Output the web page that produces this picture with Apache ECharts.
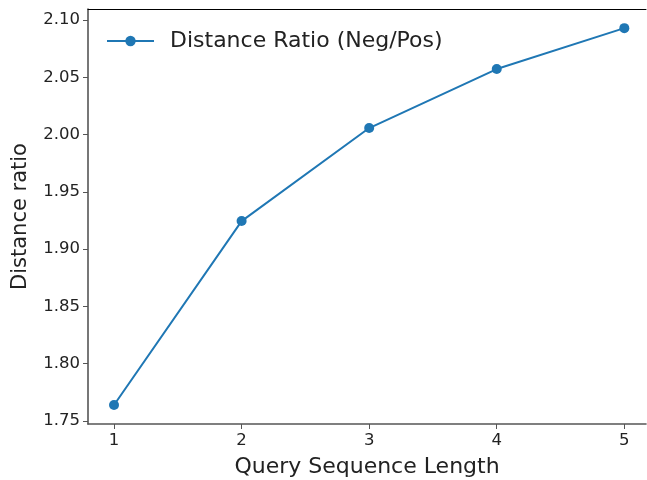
<!DOCTYPE html>
<html>
<head>
<meta charset="utf-8">
<script src="https://cdn.jsdelivr.net/npm/echarts@6/dist/echarts.min.js"></script>
<style>
  html, body { margin: 0; padding: 0; background: #fff; }
  #chart { width: 647px; height: 480px; }
</style>
</head>
<body>
<div id="chart"></div>
<script>
// query sequence length (x) and distance ratio (y)
var queryLength = [1, 2, 3, 4, 5];
var distanceRatio = [1.764, 1.9245, 2.0057, 2.0572, 2.0929];
var xTicks = [1, 2, 3, 4, 5];
var yTicks = [1.75, 1.80, 1.85, 1.90, 1.95, 2.00, 2.05, 2.10];

var font = "DejaVu Sans";
var chart = echarts.init(document.getElementById("chart"));

chart.setOption({
  animation: false,
  grid: { left: 88, right: 1, top: 9, bottom: 56, outerBoundsMode: "none", containLabel: false },
  legend: {
    left: 101,
    top: 25,
    itemWidth: 47,
    itemHeight: 13,
    textStyle: { fontFamily: font, fontSize: 22, color: "#222", padding: [0, 0, 0, 11] },
    data: ["Distance Ratio (Neg/Pos)"]
  },
  xAxis: [{
    type: "value",
    min: 0.796,
    max: 5.17,
    name: "Query Sequence Length",
    nameLocation: "middle",
    nameGap: 32,
    nameTextStyle: { fontFamily: font, fontSize: 22, color: "#222" },
    axisLine: { onZero: false, lineStyle: { color: "#555", width: 1.6 } },
    axisTick: { show: true, length: 5, customValues: xTicks, lineStyle: { color: "#555" } },
    axisLabel: { customValues: xTicks, fontFamily: font, fontSize: 16.5, color: "#222", margin: 8 },
    splitLine: { show: false }
  }, {
    // top spine
    type: "value",
    position: "top",
    min: 0.796,
    max: 5.17,
    axisLine: { show: true, lineStyle: { color: "#000", width: 1 } },
    axisTick: { show: false },
    axisLabel: { show: false },
    splitLine: { show: false }
  }],
  yAxis: {
    type: "value",
    min: 1.7474,
    max: 2.1096,
    name: "Distance ratio",
    nameLocation: "middle",
    nameGap: 57,
    nameTextStyle: { fontFamily: font, fontSize: 21, color: "#222" },
    axisLine: { show: true, onZero: false, lineStyle: { color: "#555", width: 1.6 } },
    axisTick: { show: true, length: 5, customValues: yTicks, lineStyle: { color: "#555" } },
    axisLabel: {
      customValues: yTicks,
      fontFamily: font,
      fontSize: 16.5,
      color: "#222",
      margin: 8,
      formatter: function (v) { return v.toFixed(2); }
    },
    splitLine: { show: false }
  },
  series: [{
    name: "Distance Ratio (Neg/Pos)",
    type: "line",
    data: queryLength.map(function (x, i) { return [x, distanceRatio[i]]; }),
    symbol: "circle",
    symbolSize: 10,
    lineStyle: { color: "#1f77b4", width: 2 },
    itemStyle: { color: "#1f77b4" }
  }]
});
</script>
</body>
</html>
